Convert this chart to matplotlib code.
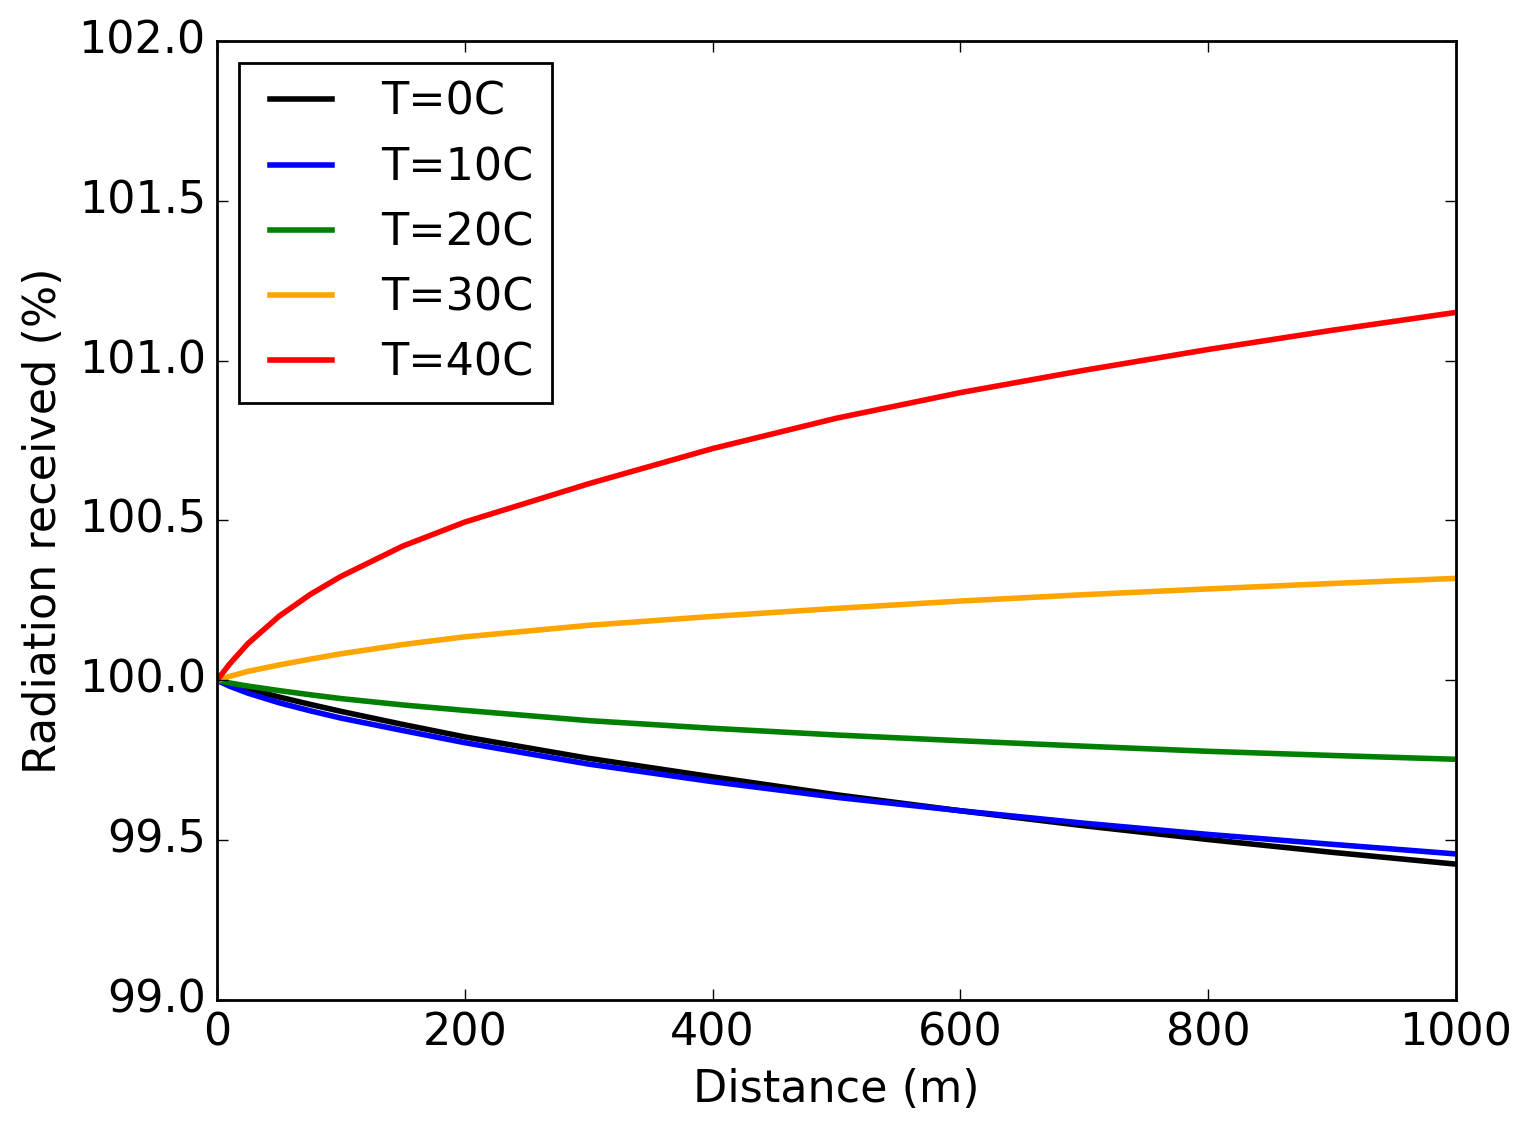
import numpy as np
import matplotlib
matplotlib.use("Agg")
import matplotlib.pyplot as plt

# ---------------------------------------------------------------
# Datos (distancia en m, radiación en %)
# ---------------------------------------------------------------
distance = [0, 10, 25, 50, 75, 100, 150, 200, 300, 400, 500, 600, 700, 800, 900, 1000]

rad_t0 = [100.000, 99.988, 99.973, 99.948, 99.925, 99.903, 99.862, 99.823,
          99.756, 99.698, 99.642, 99.592, 99.545, 99.502, 99.462, 99.425]
rad_t10 = [100.000, 99.982, 99.960, 99.930, 99.905, 99.882, 99.843, 99.805,
           99.738, 99.683, 99.634, 99.592, 99.553, 99.518, 99.487, 99.457]
rad_t20 = [100.000, 99.992, 99.982, 99.968, 99.955, 99.943, 99.923, 99.906,
           99.874, 99.850, 99.829, 99.811, 99.794, 99.778, 99.765, 99.753]
rad_t30 = [100.000, 100.012, 100.028, 100.048, 100.066, 100.083, 100.112, 100.136,
           100.172, 100.200, 100.225, 100.248, 100.268, 100.286, 100.303, 100.319]
rad_t40 = [100.000, 100.050, 100.115, 100.200, 100.268, 100.325, 100.420, 100.495,
           100.615, 100.725, 100.820, 100.900, 100.970, 101.035, 101.095, 101.151]

labels = ["T=0C", "T=10C", "T=20C", "T=30C", "T=40C"]
colores = ["black", "blue", "green", "orange", "red"]

# ---------------------------------------------------------------
# Gráfica
# ---------------------------------------------------------------
plt.style.use("classic")
plt.rcParams["font.family"] = "DejaVu Sans"
plt.rcParams["font.size"] = 16

fig = plt.figure(figsize=(7.66, 5.66), dpi=200, facecolor="white")
ax = fig.add_axes([0.1416, 0.1166, 0.9504 - 0.1416, 0.9638 - 0.1166])

series = [rad_t0, rad_t10, rad_t20, rad_t30, rad_t40]
for y, lab, c in zip(series, labels, colores):
    ax.plot(distance, y, color=c, linewidth=2.0, label=lab)

ax.set_xlim(0, 1000)
ax.set_ylim(99.0, 102.0)
ax.set_xticks([0, 200, 400, 600, 800, 1000])
ax.set_yticks([99.0, 99.5, 100.0, 100.5, 101.0, 101.5, 102.0])
ax.yaxis.set_major_formatter(matplotlib.ticker.FormatStrFormatter("%.1f"))
ax.set_xlabel("Distance (m)")
ax.set_ylabel("Radiation received (%)")

leg = ax.legend(loc="upper left", fontsize=16)
leg.get_frame().set_linewidth(1.0)

fig.savefig("out.png", dpi=200, facecolor="white")
